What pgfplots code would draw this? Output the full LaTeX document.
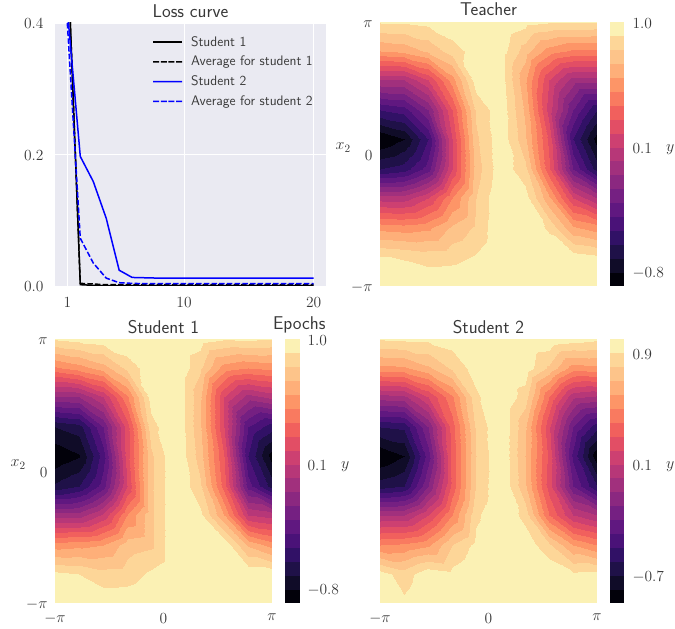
\documentclass[border=0pt]{standalone}
\usepackage{fix-cm}
\usepackage{pgfplots}
\pgfplotsset{compat=1.18}
\definecolor{tx}{gray}{0.22}
\pgfplotsset{
  colormap={mg}{rgb255=(2,1,10) rgb255=(16,12,40) rgb255=(31,17,72) rgb255=(49,17,102) rgb255=(74,18,120) rgb255=(96,24,128) rgb255=(117,32,130) rgb255=(139,40,128) rgb255=(161,48,125) rgb255=(183,55,120) rgb255=(205,64,113) rgb255=(226,78,101) rgb255=(241,96,93) rgb255=(249,122,96) rgb255=(253,149,103) rgb255=(254,175,121) rgb255=(253,196,138) rgb255=(253,214,152) rgb255=(251,241,180)},
  cont/.style={scale only axis,width=217pt,height=264pt,anchor=south west,view={0}{90},
    xmin=-3.1416,xmax=3.1416,ymin=-3.1416,ymax=3.1416,
    point meta min=-0.9,point meta max=1.0,colormap access=piecewise constant,
    axis line style={draw=none},major tick length=0pt,ztick=\empty,
    tick label style={font=\fontsize{15.5}{17}\selectfont,text=tx},
    yticklabel style={xshift=-4pt,yshift=-2pt},
    xticklabel style={yshift=-7pt},
    title style={font=\sffamily\fontsize{18.5}{20}\selectfont,text=tx,yshift=-4pt},
    label style={font=\fontsize{16}{18}\selectfont,text=tx},
    y label style={rotate=-90,anchor=center,at={(axis description cs:-0.17,0.525)}},
    clip=true},
  cbar/.style={scale only axis,width=14pt,height=264pt,anchor=south west,view={0}{90},
    xmin=0,xmax=1,ymin=-0.9,ymax=1.0,xtick=\empty,ztick=\empty,
    point meta min=-0.9,point meta max=1.0,colormap access=piecewise constant,
    axis line style={draw=none},major tick length=0pt,yticklabel pos=right,
    /pgf/number format/fixed,/pgf/number format/fixed zerofill,/pgf/number format/precision=1,
    tick label style={font=\fontsize{15.5}{17}\selectfont,text=tx},
    yticklabel style={xshift=5pt,yshift=-1.5pt},
    label style={font=\fontsize{16}{18}\selectfont,text=tx},
    y label style={rotate=-90,anchor=center,at={(axis description cs:4.3,0.515)}}},
  cf/.style={surf,shader=interp,point meta=z},
  solidkey/.style={legend image code/.code={\fill[##1,draw=none] (0pt,-0.75pt) rectangle (29pt,0.75pt);\path[draw=none,fill=none] (0pt,0pt)--(36pt,0pt);}},
  bluekey/.style={legend image code/.code={\fill[blue,draw=none] (0pt,-0.75pt) rectangle (14.6pt,0.75pt) (14.4pt,-0.75pt) rectangle (29pt,0.75pt);\path[draw=none,fill=none] (0pt,0pt)--(36pt,0pt);}},
  dashkey/.style={legend image code/.code={\fill[##1,draw=none] (0pt,-0.75pt) rectangle (6pt,0.75pt) (7.7pt,-0.75pt) rectangle (13.7pt,0.75pt) (15.4pt,-0.75pt) rectangle (21.4pt,0.75pt) (23pt,-0.75pt) rectangle (29pt,0.75pt);\path[draw=none,fill=none] (0pt,0pt)--(36pt,0pt);}},
}
\newcommand{\cbplot}{\addplot3[surf,shader=interp,point meta=y] coordinates {
(0,-0.9,0)(1,-0.9,0)

(0,1.0,0)(1,1.0,0)};}
\begin{document}
\begin{tikzpicture}[x=1pt,y=1pt]
\useasboundingbox (0,0) rectangle (675,629);
% ---------- loss
\begin{axis}[at={(55pt,343pt)},anchor=south west,scale only axis,width=271pt,height=263pt,
  xmin=0.05,xmax=20.95,ymin=0,ymax=0.4,xtick={1,10,20},ytick={0,0.2,0.4},
  axis line style={draw=none},major tick length=0pt,
  grid=major,grid style={white,line width=0.8pt},
  axis background/.style={fill={rgb,255:red,234;green,234;blue,242}},
  /pgf/number format/fixed,
  yticklabel style={/pgf/number format/fixed zerofill,/pgf/number format/precision=1,xshift=-8pt,yshift=-1pt},
  xticklabel style={yshift=-8pt},
  tick label style={font=\fontsize{15.5}{17}\selectfont,text=tx},
  title={Loss curve},title style={font=\sffamily\fontsize{18.5}{20}\selectfont,text=tx,yshift=-4pt},
  xlabel={Epochs},xlabel style={font=\sffamily\fontsize{18.5}{20}\selectfont,text=tx,at={(axis description cs:1.011,-0.148)},anchor=east},
  legend style={at={(axis description cs:0.35,0.965)},anchor=north west,draw=none,fill=none,
    font=\sffamily\fontsize{13.8}{15}\selectfont,text=tx,row sep=4.5pt},
  legend cell align=left,
]
\addplot[black,line width=1.5pt,solidkey] coordinates {(1,0.52)(2,0.002)(3,0.001)(4,0.0006)(5,0.0005)(6,0.0005)(7,0.0005)(8,0.0005)(9,0.0005)(10,0.0005)(11,0.0005)(12,0.0005)(13,0.0005)(14,0.0005)(15,0.0005)(16,0.0005)(17,0.0005)(18,0.0005)(19,0.0005)(20,0.0005)};
\addlegendentry{Student 1}
\addplot[black,line width=1.5pt,dash pattern=on 5.5pt off 2.2pt,dashkey] coordinates {(1,0.52)(2,0.004)(3,0.003)(4,0.002)(5,0.002)(6,0.002)(7,0.002)(8,0.002)(9,0.002)(10,0.002)(11,0.002)(12,0.002)(13,0.002)(14,0.002)(15,0.002)(16,0.002)(17,0.002)(18,0.002)(19,0.002)(20,0.002)};
\addlegendentry{Average for student 1}
\addplot[blue,line width=1.5pt,bluekey] coordinates {(1,0.42)(2,0.197)(3,0.159)(4,0.103)(5,0.024)(6,0.013)(7,0.0125)(8,0.012)(9,0.012)(10,0.012)(11,0.012)(12,0.012)(13,0.012)(14,0.012)(15,0.012)(16,0.012)(17,0.012)(18,0.012)(19,0.012)(20,0.012)};
\addlegendentry{Student 2}
\addplot[blue,line width=1.5pt,dash pattern=on 5.5pt off 2.2pt,dashkey] coordinates {(1,0.40)(2,0.0726)(3,0.035)(4,0.012)(5,0.005)(6,0.004)(7,0.0035)(8,0.0035)(9,0.0035)(10,0.0035)(11,0.0035)(12,0.0035)(13,0.0035)(14,0.0035)(15,0.0035)(16,0.0035)(17,0.0035)(18,0.0035)(19,0.0035)(20,0.0035)};
\addlegendentry{Average for student 2}
\end{axis}
% ---------- teacher
\begin{axis}[cont,at={(380pt,343pt)},title={Teacher},title style={yshift=1pt},xtick=\empty,ytick={-3.1416,0,3.1416},yticklabels={$-\pi$,$0$,$\pi$},ylabel={$x_2$}]
\addplot3[cf] coordinates {
(-3.14,3.14,.91)(-2.44,3.14,.91)(-1.75,3.14,.93)(-1.05,3.14,.98)(-.35,3.14,1)(.35,3.14,1)(1.05,3.14,.94)(1.75,3.14,.91)(2.44,3.14,.91)(3.14,3.14,.9)

(-3.14,2.44,.6)(-2.44,2.44,.63)(-1.75,2.44,.72)(-1.05,2.44,.85)(-.35,2.44,.95)(.35,2.44,.95)(1.05,2.44,.75)(1.75,2.44,.55)(2.44,2.44,.48)(3.14,2.44,.48)

(-3.14,1.75,0)(-2.44,1.75,0)(-1.75,1.75,.2)(-1.05,1.75,.55)(-.35,1.75,.96)(.35,1.75,.95)(1.05,1.75,.62)(1.75,1.75,.2)(2.44,1.75,-.05)(3.14,1.75,-.05)

(-3.14,1.05,-.5)(-2.44,1.05,-.45)(-1.75,1.05,-.2)(-1.05,1.05,.3)(-.35,1.05,.82)(.35,1.05,.97)(1.05,1.05,.68)(1.75,1.05,.15)(2.44,1.05,-.3)(3.14,1.05,-.6)

(-3.14,.35,-.9)(-2.44,.35,-.8)(-1.75,.35,-.5)(-1.05,.35,.2)(-.35,.35,.78)(.35,.35,.97)(1.05,.35,.72)(1.75,.35,.27)(2.44,.35,-.5)(3.14,.35,-.85)

(-3.14,-.35,-.6)(-2.44,-.35,-.55)(-1.75,-.35,-.35)(-1.05,-.35,.2)(-.35,-.35,.75)(.35,-.35,.97)(1.05,-.35,.83)(1.75,-.35,.32)(2.44,-.35,-.3)(3.14,-.35,-.65)

(-3.14,-1.05,.05)(-2.44,-1.05,.05)(-1.75,-1.05,.2)(-1.05,-1.05,.5)(-.35,-1.05,.8)(.35,-1.05,1)(1.05,-1.05,.95)(1.75,-1.05,.62)(2.44,-1.05,.2)(3.14,-1.05,0)

(-3.14,-1.75,.57)(-2.44,-1.75,.55)(-1.75,-1.75,.58)(-1.05,-1.75,.72)(-.35,-1.75,.82)(.35,-1.75,1)(1.05,-1.75,1)(1.75,-1.75,.88)(2.44,-1.75,.62)(3.14,-1.75,.55)

(-3.14,-2.44,.91)(-2.44,-2.44,.89)(-1.75,-2.44,.86)(-1.05,-2.44,.87)(-.35,-2.44,.91)(.35,-2.44,1)(1.05,-2.44,1)(1.75,-2.44,.99)(2.44,-2.44,.95)(3.14,-2.44,.92)

(-3.14,-3.14,.98)(-2.44,-3.14,.98)(-1.75,-3.14,.98)(-1.05,-3.14,.98)(-.35,-3.14,1)(.35,-3.14,1)(1.05,-3.14,1)(1.75,-3.14,1)(2.44,-3.14,1)(3.14,-3.14,1)
};
\end{axis}
\begin{axis}[cbar,at={(610pt,343pt)},ytick={-0.8,0.1,1.0},ylabel={$y$}]
\cbplot
\end{axis}
% ---------- student 1
\begin{axis}[cont,at={(55pt,26pt)},title={Student 1},xtick={-3.1416,0,3.1416},xticklabels={$-\pi$,$0$,$\pi$},ytick={-3.1416,0,3.1416},yticklabels={$-\pi$,$0$,$\pi$},ylabel={$x_2$}]
\addplot3[cf] coordinates {
(-3.14,3.14,.91)(-2.44,3.14,.94)(-1.75,3.14,.96)(-1.05,3.14,1)(-.35,3.14,1)(.35,3.14,1)(1.05,3.14,.95)(1.75,3.14,.91)(2.44,3.14,.92)(3.14,3.14,.9)

(-3.14,2.44,.48)(-2.44,2.44,.55)(-1.75,2.44,.65)(-1.05,2.44,.83)(-.35,2.44,.97)(.35,2.44,1)(1.05,2.44,.82)(1.75,2.44,.55)(2.44,2.44,.5)(3.14,2.44,.53)

(-3.14,1.75,-.12)(-2.44,1.75,-.1)(-1.75,1.75,.1)(-1.05,1.75,.48)(-.35,1.75,.95)(.35,1.75,1)(1.05,1.75,.72)(1.75,1.75,.2)(2.44,1.75,-.05)(3.14,1.75,.03)

(-3.14,1.05,-.7)(-2.44,1.05,-.65)(-1.75,1.05,-.3)(-1.05,1.05,.25)(-.35,1.05,.86)(.35,1.05,1)(1.05,1.05,.72)(1.75,1.05,.2)(2.44,1.05,-.4)(3.14,1.05,-.56)

(-3.14,.35,-.88)(-2.44,.35,-.81)(-1.75,.35,-.45)(-1.05,.35,.25)(-.35,.35,.78)(.35,.35,1)(1.05,.35,.75)(1.75,.35,.3)(2.44,.35,-.5)(3.14,.35,-.85)

(-3.14,-.35,-.68)(-2.44,-.35,-.6)(-1.75,-.35,-.35)(-1.05,-.35,.2)(-.35,-.35,.78)(.35,-.35,1)(1.05,-.35,.82)(1.75,-.35,.35)(2.44,-.35,-.35)(3.14,-.35,-.65)

(-3.14,-1.05,-.05)(-2.44,-1.05,-.05)(-1.75,-1.05,.12)(-1.05,-1.05,.5)(-.35,-1.05,.78)(.35,-1.05,1)(1.05,-1.05,.93)(1.75,-1.05,.6)(2.44,-1.05,.1)(3.14,-1.05,.05)

(-3.14,-1.75,.55)(-2.44,-1.75,.57)(-1.75,-1.75,.6)(-1.05,-1.75,.75)(-.35,-1.75,.78)(.35,-1.75,1)(1.05,-1.75,1)(1.75,-1.75,.98)(2.44,-1.75,.68)(3.14,-1.75,.56)

(-3.14,-2.44,.93)(-2.44,-2.44,.9)(-1.75,-2.44,.84)(-1.05,-2.44,.85)(-.35,-2.44,.92)(.35,-2.44,1)(1.05,-2.44,1)(1.75,-2.44,1)(2.44,-2.44,.98)(3.14,-2.44,.97)

(-3.14,-3.14,1)(-2.44,-3.14,1)(-1.75,-3.14,.97)(-1.05,-3.14,.97)(-.35,-3.14,1)(.35,-3.14,1)(1.05,-3.14,1)(1.75,-3.14,1)(2.44,-3.14,1)(3.14,-3.14,1)
};
\end{axis}
\begin{axis}[cbar,at={(285pt,26pt)},ytick={-0.8,0.1,1.0},ylabel={$y$}]
\cbplot
\end{axis}
% ---------- student 2
\begin{axis}[cont,at={(380pt,26pt)},title={Student 2},xtick={-3.1416,0,3.1416},xticklabels={$-\pi$,$0$,$\pi$},ytick=\empty]
\addplot3[cf] coordinates {
(-3.14,3.14,.91)(-2.44,3.14,.92)(-1.75,3.14,.92)(-1.05,3.14,.95)(-.35,3.14,1)(.35,3.14,1)(1.05,3.14,1)(1.75,3.14,.98)(2.44,3.14,.95)(3.14,3.14,.92)

(-3.14,2.44,.57)(-2.44,2.44,.58)(-1.75,2.44,.68)(-1.05,2.44,.82)(-.35,2.44,.95)(.35,2.44,1)(1.05,2.44,.97)(1.75,2.44,.78)(2.44,2.44,.55)(3.14,2.44,.57)

(-3.14,1.75,-.05)(-2.44,1.75,-.03)(-1.75,1.75,.2)(-1.05,1.75,.48)(-.35,1.75,.88)(.35,1.75,1)(1.05,1.75,.85)(1.75,1.75,.4)(2.44,1.75,.02)(3.14,1.75,-.02)

(-3.14,1.05,-.6)(-2.44,1.05,-.58)(-1.75,1.05,-.2)(-1.05,1.05,.35)(-.35,1.05,.82)(.35,1.05,1)(1.05,1.05,.72)(1.75,1.05,.22)(2.44,1.05,-.3)(3.14,1.05,-.57)

(-3.14,.35,-.89)(-2.44,.35,-.8)(-1.75,.35,-.35)(-1.05,.35,.33)(-.35,.35,.8)(.35,.35,1)(1.05,.35,.7)(1.75,.35,.27)(2.44,.35,-.43)(3.14,.35,-.88)

(-3.14,-.35,-.65)(-2.44,-.35,-.6)(-1.75,-.35,-.2)(-1.05,-.35,.33)(-.35,-.35,.81)(.35,-.35,1)(1.05,-.35,.72)(1.75,-.35,.25)(2.44,-.35,-.3)(3.14,-.35,-.6)

(-3.14,-1.05,0)(-2.44,-1.05,0)(-1.75,-1.05,.2)(-1.05,-1.05,.5)(-.35,-1.05,.88)(.35,-1.05,1)(1.05,-1.05,.86)(1.75,-1.05,.4)(2.44,-1.05,.1)(3.14,-1.05,0)

(-3.14,-1.75,.5)(-2.44,-1.75,.52)(-1.75,-1.75,.58)(-1.05,-1.75,.8)(-.35,-1.75,.93)(.35,-1.75,1)(1.05,-1.75,.97)(1.75,-1.75,.82)(2.44,-1.75,.6)(3.14,-1.75,.5)

(-3.14,-2.44,.947)(-2.44,-2.44,.85)(-1.75,-2.44,.97)(-1.05,-2.44,.93)(-.35,-2.44,1)(.35,-2.44,1)(1.05,-2.44,1)(1.75,-2.44,.99)(2.44,-2.44,.92)(3.14,-2.44,.93)

(-3.14,-3.14,.98)(-2.44,-3.14,.92)(-1.75,-3.14,1)(-1.05,-3.14,1)(-.35,-3.14,1)(.35,-3.14,1)(1.05,-3.14,1)(1.75,-3.14,1)(2.44,-3.14,1)(3.14,-3.14,1)
};
\end{axis}
\begin{axis}[cbar,at={(610pt,26pt)},ytick={-0.7,0.1,0.9},ylabel={$y$}]
\cbplot
\end{axis}
\end{tikzpicture}
\end{document}
